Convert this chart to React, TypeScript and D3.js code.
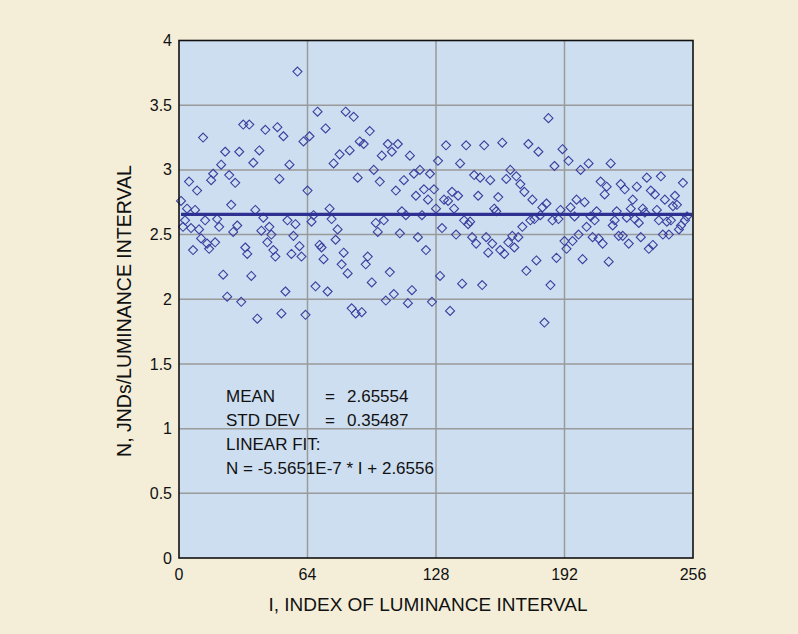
import React, { useEffect, useRef } from "react";
import * as d3 from "d3";

const values: number[] = [
  2.76, 2.56, 2.61, 2.70, 2.91, 2.55, 2.38, 2.69, 2.84, 2.54,
  2.47, 3.25, 2.61, 2.43, 2.39, 2.92, 2.97, 2.44, 2.62, 2.56,
  3.04, 2.19, 3.14, 2.02, 2.96, 2.73, 2.52, 2.90, 2.57, 3.14,
  1.98, 3.35, 2.40, 2.35, 3.35, 2.18, 3.055, 2.69, 1.85, 3.15,
  2.53, 2.63, 3.31, 2.44, 2.56, 2.50, 2.38, 2.33, 3.33, 2.93,
  1.89, 3.26, 2.06, 2.61, 3.04, 2.35, 2.49, 2.58, 3.76, 2.41,
  2.33, 3.22, 1.88, 2.84, 3.26, 2.60, 2.65, 2.10, 3.45, 2.42,
  2.40, 2.31, 3.32, 2.06, 2.70, 2.62, 3.05, 2.46, 2.54, 3.12,
  2.27, 2.36, 3.45, 2.20, 3.15, 1.93, 3.41, 1.89, 2.94, 3.22,
  1.90, 3.20, 2.27, 2.33, 3.30, 2.13, 3.00, 2.59, 2.52, 2.91,
  3.11, 2.61, 1.99, 3.20, 2.21, 3.14, 2.04, 2.84, 3.20, 2.51,
  2.68, 2.92, 2.65, 1.97, 3.11, 2.07, 2.97, 2.80, 2.48, 3.00,
  2.65, 2.85, 2.38, 2.77, 2.97, 1.98, 2.85, 2.70, 3.07, 2.18,
  2.55, 2.77, 3.19, 2.76, 1.91, 2.83, 2.70, 2.50, 2.80, 3.05,
  2.12, 2.61, 3.19, 2.58, 2.60, 2.48, 2.96, 2.43, 2.80, 2.94,
  2.11, 3.19, 2.48, 2.36, 2.92, 2.43, 2.70, 2.68, 2.79, 2.38,
  3.21, 2.35, 2.93, 2.44, 3.00, 2.49, 2.40, 2.95, 2.48, 2.89,
  2.56, 2.83, 2.22, 3.20, 2.61, 2.77, 2.62, 2.30, 3.14, 2.65,
  2.71, 1.82, 2.74, 3.40, 2.11, 2.61, 3.03, 2.32, 2.62, 2.69,
  3.16, 2.45, 2.39, 3.07, 2.71, 2.45, 2.64, 2.77, 2.50, 3.00,
  2.31, 2.75, 2.56, 3.05, 2.64, 2.48, 2.61, 2.68, 2.47, 2.91,
  2.43, 2.81, 2.87, 2.29, 3.05, 2.57, 2.61, 2.68, 2.49, 2.89,
  2.49, 2.85, 2.63, 2.43, 2.70, 2.77, 2.62, 2.87, 2.59, 2.48,
  2.70, 2.67, 2.94, 2.39, 2.84, 2.42, 2.81, 2.69, 2.61, 2.95,
  2.50, 2.77, 2.60, 2.50, 2.61, 2.72, 2.80, 2.73, 2.54, 2.57,
  2.90, 2.61, 2.64,
];

const meanValue = 2.65554;
const xTicks: number[] = [0, 64, 128, 192, 256];
const yTicks: number[] = [0, 0.5, 1, 1.5, 2, 2.5, 3, 3.5, 4];
const statLabels: string[] = ["MEAN", "STD DEV", "LINEAR FIT:"];
const statValues: string[] = ["2.65554", "0.35487", ""];
const fitLine = "N = -5.5651E-7 * I + 2.6556";
const xTitle = "I, INDEX OF LUMINANCE INTERVAL";
const yTitle = "N, JNDs/LUMINANCE INTERVAL";

const W = 798;
const H = 634;
const M = { left: 179, right: 693, top: 40.5, bottom: 558 };
const FONT = "'Liberation Sans', Arial, Helvetica, sans-serif";

export default function App() {
  const ref = useRef<SVGSVGElement | null>(null);

  useEffect(() => {
    const svg = d3.select(ref.current);
    svg.selectAll("*").remove();

    const x = d3.scaleLinear().domain([0, 256]).range([M.left, M.right]);
    const y = d3.scaleLinear().domain([0, 4]).range([M.bottom, M.top]);

    svg.append("rect").attr("x", 0).attr("y", 0).attr("width", W).attr("height", H).attr("fill", "#f4eed9");

    svg.append("rect")
      .attr("x", M.left).attr("y", M.top)
      .attr("width", M.right - M.left).attr("height", M.bottom - M.top)
      .attr("fill", "#cddef0");

    // grid
    const g = svg.append("g");
    g.selectAll("line.h").data(yTicks.slice(1, -1)).join("line")
      .attr("x1", M.left).attr("x2", M.right)
      .attr("y1", (d) => y(d)).attr("y2", (d) => y(d))
      .attr("stroke", "#9a9a9a").attr("stroke-width", 1.5);
    g.selectAll("line.v").data(xTicks.slice(1, -1)).join("line")
      .attr("y1", M.top).attr("y2", M.bottom)
      .attr("x1", (d) => x(d)).attr("x2", (d) => x(d))
      .attr("stroke", "#9a9a9a").attr("stroke-width", 1.5);

    // diamond points
    const diamond = {
      draw(ctx: any, size: number) {
        const h = Math.sqrt(size) / 2;
        ctx.moveTo(0, -h);
        ctx.lineTo(h, 0);
        ctx.lineTo(0, h);
        ctx.lineTo(-h, 0);
        ctx.closePath();
      },
    };
    const sym = d3.symbol().type(diamond as any).size(81);
    svg.append("g").selectAll("path").data(values).join("path")
      .attr("d", sym as any)
      .attr("transform", (d, i) => `translate(${x(i + 1)},${y(d)})`)
      .attr("fill", "none")
      .attr("stroke", "#3a3f9e")
      .attr("stroke-width", 1.1);

    // mean line
    svg.append("line")
      .attr("x1", x(1)).attr("x2", x(255.5))
      .attr("y1", y(meanValue)).attr("y2", y(meanValue))
      .attr("stroke", "#2e3192").attr("stroke-width", 3.2);

    // frame
    svg.append("rect")
      .attr("x", M.left).attr("y", M.top)
      .attr("width", M.right - M.left).attr("height", M.bottom - M.top)
      .attr("fill", "none").attr("stroke", "#111").attr("stroke-width", 1.6);

    // tick labels
    svg.append("g").selectAll("text").data(yTicks).join("text")
      .attr("x", M.left - 7).attr("y", (d) => y(d)).attr("dy", "0.35em")
      .attr("text-anchor", "end").attr("font-family", FONT).attr("font-size", 16)
      .attr("fill", "#111").text((d) => String(d));
    svg.append("g").selectAll("text").data(xTicks).join("text")
      .attr("x", (d) => x(d)).attr("y", 580)
      .attr("text-anchor", "middle").attr("font-family", FONT).attr("font-size", 16)
      .attr("fill", "#111").text((d) => String(d));

    // axis titles
    svg.append("text").attr("x", 428).attr("y", 611)
      .attr("text-anchor", "middle").attr("font-family", FONT).attr("font-size", 19)
      .attr("fill", "#111").text(xTitle);
    svg.append("text")
      .attr("transform", `translate(131,311) rotate(-90)`)
      .attr("text-anchor", "middle").attr("font-family", FONT).attr("font-size", 19.5)
      .attr("fill", "#111").text(yTitle);

    // stats annotation
    const ann = svg.append("g").attr("font-family", FONT).attr("font-size", 17).attr("fill", "#111");
    statLabels.forEach((lab, i) => {
      const yy = 401.5 + i * 24.3;
      ann.append("text").attr("x", 226).attr("y", yy).text(lab);
      if (statValues[i]) {
        ann.append("text").attr("x", 325).attr("y", yy).text("=");
        ann.append("text").attr("x", 347).attr("y", yy).text(statValues[i]);
      }
    });
    ann.append("text").attr("x", 226).attr("y", 401.5 + 3 * 24.3).text(fitLine);
  }, []);

  return (
    <svg
      ref={ref}
      width={W}
      height={H}
      style={{ position: "absolute", left: 0, top: 0, display: "block" }}
    />
  );
}
